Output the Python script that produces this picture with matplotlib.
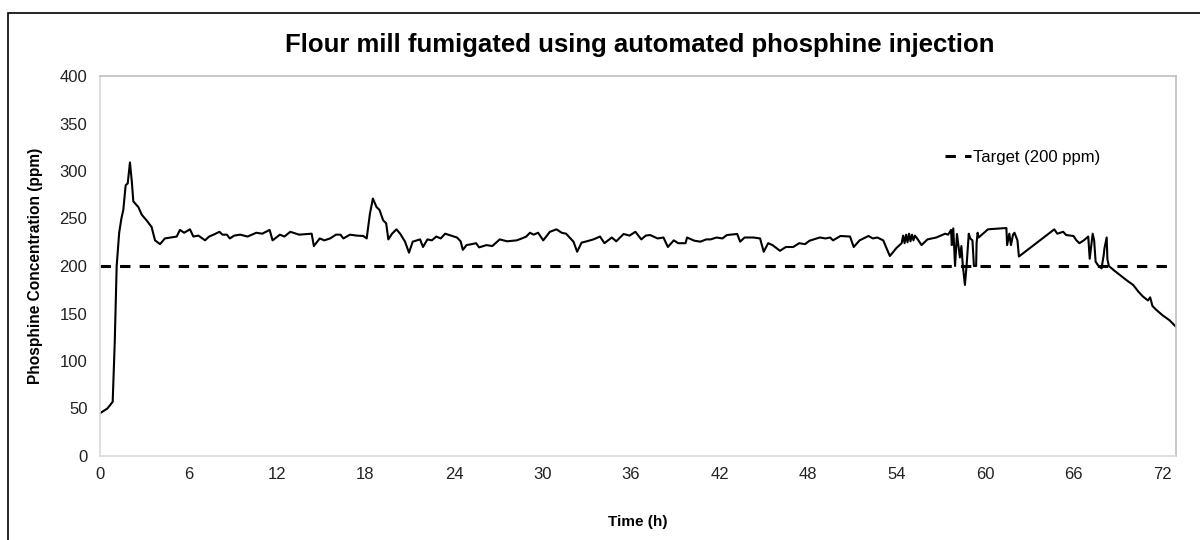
import matplotlib
matplotlib.use("Agg")
import matplotlib.pyplot as plt
from matplotlib.patches import Rectangle

plt.rcParams['font.family'] = ['Liberation Sans', 'DejaVu Sans']

# phosphine readings, (hours, ppm)
readings = [
    (0.0, 45), (0.5, 50), (0.86, 57), (1.0, 120), (1.13, 200), (1.3, 235),
    (1.45, 250), (1.58, 259), (1.74, 285), (1.88, 287), (2.03, 309),
    (2.15, 290), (2.26, 268), (2.6, 262), (2.83, 254), (3.16, 248),
    (3.5, 241), (3.73, 227), (4.07, 223), (4.4, 229), (4.8, 230), (5.2, 231),
    (5.42, 238), (5.7, 235), (6.1, 238.6), (6.33, 231), (6.67, 232),
    (7.12, 227), (7.4, 231), (7.7, 233), (8.1, 236), (8.3, 233), (8.6, 233),
    (8.8, 229), (9.1, 232), (9.5, 233), (10.0, 231), (10.6, 235), (11.0, 234),
    (11.5, 238), (11.7, 227), (12.2, 233), (12.5, 231), (12.9, 236),
    (13.5, 233), (14.35, 234), (14.5, 221), (14.9, 229), (15.2, 227),
    (15.6, 229), (16.0, 233), (16.3, 233), (16.5, 229), (16.95, 233),
    (17.4, 232), (17.85, 231.6), (18.08, 229), (18.3, 255),
    (18.5, 271), (18.75, 262), (18.95, 259), (19.2, 248), (19.4, 245),
    (19.55, 228), (19.8, 234), (20.1, 238.6), (20.35, 234), (20.68, 225.6),
    (20.95, 214), (21.2, 225.6), (21.7, 228), (21.9, 220), (22.2, 228),
    (22.5, 227), (22.8, 231), (23.1, 229), (23.4, 234), (23.8, 232),
    (24.2, 230), (24.45, 226), (24.6, 217),
    (24.85, 222), (25.2, 223), (25.5, 224), (25.7, 219.6), (26.2, 222),
    (26.6, 221), (27.1, 228), (27.6, 226), (28.25, 227), (28.6, 229),
    (28.9, 231), (29.15, 235), (29.4, 233),
    (29.7, 235), (30.05, 227), (30.5, 236), (30.95, 238.6), (31.3, 235),
    (31.6, 234), (32.1, 225.6), (32.35, 215), (32.65, 224.6), (33.0, 226),
    (33.45, 228), (33.9, 231),
    (34.2, 224), (34.7, 230), (35.0, 226), (35.5, 233.7), (35.9, 232),
    (36.3, 236), (36.7, 228), (37.0, 232), (37.3, 232.6), (37.8, 229),
    (38.2, 230), (38.5, 220), (38.9, 227),
    (39.2, 224), (39.7, 224), (39.8, 230), (40.3, 226.6), (40.7, 225.6),
    (41.1, 228), (41.4, 228), (41.8, 230), (42.2, 229), (42.5, 232.6),
    (43.2, 233.7), (43.4, 225.6), (43.7, 230), (44.3, 230), (44.75, 229),
    (45.0, 215), (45.3, 224), (45.6, 222), (46.1, 216), (46.5, 220),
    (47.0, 220), (47.4, 224), (47.8, 223), (48.1, 226.6), (48.8, 230),
    (49.2, 229), (49.5, 230), (49.7, 227), (50.2, 231.6),
    (50.85, 231), (51.1, 220), (51.5, 227), (52.1, 231.6), (52.4, 229),
    (52.7, 230), (53.1, 227), (53.55, 210.5), (54.0, 219), (54.35, 224),
    (54.45, 232), (54.55, 224), (54.65, 233), (54.75, 225), (54.85, 234),
    (54.95, 226), (55.05, 233), (55.15, 227), (55.25, 232), (55.4, 229),
    (55.7, 222), (56.1, 228), (56.7, 230), (57.3, 234), (57.5, 233),
    (57.7, 238), (57.75, 222), (57.85, 239.6), (57.97, 200), (58.1, 233.7),
    (58.3, 209), (58.4, 221), (58.5, 200), (58.64, 180), (58.75, 200),
    (58.9, 234), (59.0, 229), (59.15, 227), (59.25, 200), (59.4, 200),
    (59.43, 224), (59.5, 235), (59.57, 230), (60.2, 238.6), (61.45, 240),
    (61.5, 222), (61.65, 234), (61.76, 222), (61.9, 233), (62.0, 235),
    (62.2, 227), (62.3, 210), (64.7, 238.6), (64.9, 234), (65.3, 236),
    (65.5, 232.6), (66.0, 231.6), (66.2, 227), (66.4, 224), (66.7, 227),
    (67.0, 231), (67.1, 207.6), (67.3, 234), (67.4, 227), (67.5, 204.6),
    (67.65, 201), (67.9, 197.5), (68.05, 211.6), (68.1, 218.6), (68.25, 230),
    (68.3, 207), (68.4, 200), (68.7, 196), (69.15, 190.5), (69.6, 185),
    (70.05, 180), (70.4, 173), (70.7, 168), (71.05, 163.7), (71.2, 167),
    (71.35, 158), (71.6, 154), (72.05, 148), (72.5, 143), (72.95, 136),
]
time_h = [r[0] for r in readings]
ppm = [r[1] for r in readings]

target_ppm = 200
x_ticks = list(range(0, 73, 6))
y_ticks = list(range(0, 401, 50))

fig = plt.figure(figsize=(12, 5.4), dpi=100)
ax = fig.add_axes([100 / 1200, 1 - 456 / 540, 1076 / 1200, 380 / 540])

ax.plot(time_h, ppm, color='black', lw=1.5, solid_joinstyle='round')
ax.axhline(target_ppm, color='black', lw=2.2, dashes=(3.4, 3.0),
           label='Target (200 ppm)')

ax.set_xlim(0, 72.95)
ax.set_ylim(0, 400)
ax.set_xticks(x_ticks)
ax.set_yticks(y_ticks)
ax.tick_params(length=0, labelsize=12, colors='#222222')
ax.tick_params(axis='x', pad=8)
ax.tick_params(axis='y', pad=9)

for side in ['left', 'bottom']:
    ax.spines[side].set_color('#d9d9d9')
for side in ['top', 'right']:
    ax.spines[side].set_color('#bfbfbf')
for s in ax.spines.values():
    s.set_linewidth(1.2)

ax.set_xlabel('Time (h)', fontsize=11, fontweight='bold', labelpad=24)
ax.set_ylabel('Phosphine Concentration (ppm)', fontsize=11.2,
              fontweight='bold', labelpad=12)
fig.text(0.533, 1 - 45 / 540, 'Flour mill fumigated using automated phosphine injection',
         ha='center', va='center', fontsize=18.5, fontweight='bold')

ax.legend(loc='center left', bbox_to_anchor=(0.785, 0.786), frameon=False,
          fontsize=12, handlelength=1.6, handletextpad=0.1,
          borderpad=0, borderaxespad=0)

# outer chart frame
fig.add_artist(Rectangle((8 / 1200, -0.2), 1.3, 1.2 - 13 / 540,
                         transform=fig.transFigure, fill=False,
                         edgecolor='black', lw=1.2))

fig.savefig('out.png', dpi=100)
